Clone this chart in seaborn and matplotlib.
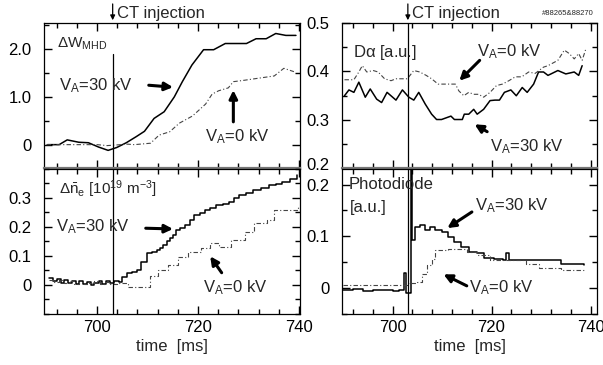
import matplotlib
matplotlib.use("Agg")
import matplotlib.pyplot as plt
import matplotlib.transforms as mtransforms
from matplotlib.ticker import MultipleLocator, FixedLocator
import numpy as np
import seaborn as sns

sns.set_style("ticks")
plt.rcParams['font.family'] = ['Liberation Sans', 'DejaVu Sans']
plt.rcParams['mathtext.fontset'] = 'custom'
plt.rcParams['mathtext.rm'] = 'Liberation Sans'
plt.rcParams['mathtext.it'] = 'Liberation Sans'
plt.rcParams['mathtext.default'] = 'regular'

CT_TIME = 703.1

# stored energy increase dW_MHD
w30_t = [690.2, 692.5, 694.1, 696.4, 698.3, 700.3, 702.2, 703.9, 705.8, 707.8, 709.4,
         711.3, 713.3, 715.3, 716.9, 718.8, 721.1, 723.1, 725.4, 729.6, 731.5, 733.5,
         735.4, 737.4, 739.4]
w30_v = [0.0, 0.0, 0.1, 0.05, 0.04, -0.05, -0.12, -0.06, 0.04, 0.17, 0.28,
         0.55, 0.69, 1.0, 1.32, 1.67, 1.99, 1.99, 2.12, 2.12, 2.22, 2.22,
         2.33, 2.29, 2.29]
w0_t = [690.0, 700.0, 702.0, 706.1, 707.4, 710.6, 712.3, 714.4, 716.3, 718.9, 721.5,
        722.8, 724.1, 726.0, 727.0, 729.2, 731.8, 735.1, 737.0, 739.0]
w0_v = [0.0, 0.0, -0.02, 0.01, 0.0, 0.03, 0.2, 0.27, 0.45, 0.6, 0.85,
        1.06, 1.13, 1.19, 1.32, 1.35, 1.39, 1.44, 1.6, 1.53]

# D-alpha
da30_t = [690.3, 691.2, 692.2, 693.2, 694.5, 695.5, 696.8, 697.8, 698.9, 700.7, 702.0,
          703.3, 704.3, 705.3, 706.6, 707.9, 708.9, 709.9, 711.8, 712.5, 714.1, 714.5,
          715.4, 716.4, 717.1, 718.4, 719.7, 720.7, 721.6, 722.6, 723.9, 725.0, 726.2,
          727.2, 728.5, 729.5, 730.5, 731.4, 733.4, 735.0, 736.7, 737.6, 738.3]
da30_v = [0.350, 0.362, 0.357, 0.378, 0.347, 0.364, 0.343, 0.336, 0.357, 0.341, 0.362,
          0.347, 0.341, 0.357, 0.333, 0.312, 0.301, 0.301, 0.308, 0.301, 0.301, 0.312,
          0.312, 0.322, 0.312, 0.322, 0.340, 0.341, 0.341, 0.357, 0.362, 0.350, 0.367,
          0.357, 0.374, 0.399, 0.399, 0.392, 0.402, 0.395, 0.399, 0.392, 0.412]
da0_t = [690.3, 692.2, 693.2, 693.9, 694.8, 696.1, 697.1, 698.4, 699.7, 700.7, 703.0,
         704.3, 705.5, 706.8, 707.9, 709.2, 710.8, 712.7, 713.4, 714.4, 715.4, 716.4,
         717.4, 718.4, 719.7, 721.0, 722.2, 723.5, 724.8, 726.1, 727.5, 728.8, 730.5,
         731.4, 733.4, 734.7, 735.7, 736.7, 737.6, 738.3, 739.0]
da0_v = [0.383, 0.383, 0.399, 0.412, 0.399, 0.402, 0.399, 0.385, 0.381, 0.385, 0.385,
         0.402, 0.399, 0.392, 0.385, 0.374, 0.374, 0.374, 0.360, 0.350, 0.357, 0.353,
         0.353, 0.347, 0.357, 0.371, 0.374, 0.381, 0.389, 0.389, 0.399, 0.396, 0.409,
         0.412, 0.423, 0.444, 0.437, 0.426, 0.437, 0.423, 0.445]

# line-averaged density increase
ne30_t = [690.5, 691.3, 692.0, 692.8, 693.5, 694.3, 695.0, 695.8, 696.5, 697.3, 698.0,
          698.8, 699.5, 700.3, 701.0, 701.8, 702.5, 703.3, 704.3, 705.0, 705.9, 706.9,
          707.9, 708.8, 709.8, 710.8, 711.8, 712.5, 713.1, 713.8, 714.4, 715.0, 715.7,
          716.5, 717.4, 718.4, 719.3, 720.3, 721.3, 722.4, 723.6, 724.9, 726.2, 727.2,
          728.2, 729.5, 730.8, 732.4, 734.1, 735.4, 736.7, 738.2, 739.6]
ne30_v = [0.023, 0.012, 0.020, 0.008, 0.018, 0.006, 0.015, 0.004, 0.012, 0.002, 0.010,
          0.000, 0.008, 0.014, 0.003, 0.012, 0.005, 0.015, 0.011, 0.028, 0.040, 0.045,
          0.051, 0.080, 0.108, 0.112, 0.120, 0.128, 0.137, 0.150, 0.160, 0.170, 0.188,
          0.196, 0.205, 0.222, 0.240, 0.248, 0.257, 0.265, 0.274, 0.278, 0.285, 0.300,
          0.308, 0.315, 0.325, 0.334, 0.342, 0.348, 0.354, 0.365, 0.377]
ne0_t = [690.5, 691.5, 692.5, 693.5, 694.5, 695.5, 696.5, 697.5, 698.5, 699.5, 700.5,
         701.5, 702.5, 704.0, 706.1, 708.8, 710.4, 712.1, 714.1, 716.0, 718.0, 720.6,
         722.3, 724.2, 726.5, 729.4, 731.1, 733.7, 735.0, 737.6, 739.9]
ne0_v = [0.017, 0.010, 0.016, 0.006, 0.012, 0.004, 0.010, 0.002, 0.008, 0.012, 0.004,
         0.010, 0.002, 0.006, -0.006, -0.006, 0.031, 0.051, 0.068, 0.097, 0.114, 0.126,
         0.143, 0.131, 0.154, 0.183, 0.211, 0.223, 0.257, 0.257, 0.270]

# photodiode
pd30_t = [690.0, 692.0, 694.0, 696.0, 698.0, 700.0, 701.4, 702.4, 702.7, 703.6, 703.8,
          704.0, 704.6, 705.6, 706.6, 707.6, 708.6, 709.9, 711.2, 712.5, 713.8, 715.4,
          717.1, 718.4, 720.4, 722.3, 722.9, 723.6, 726.2, 728.8, 731.4, 734.0, 738.6]
pd30_v = [-0.004, -0.002, -0.005, -0.003, -0.004, -0.006, -0.004, 0.030, -0.009, -0.009, 0.240,
          0.092, 0.118, 0.121, 0.112, 0.118, 0.112, 0.108, 0.099, 0.089, 0.079, 0.070,
          0.067, 0.059, 0.057, 0.054, 0.067, 0.055, 0.055, 0.055, 0.054, 0.047, 0.044]
pd0_t = [690.0, 702.0, 703.0, 705.0, 706.0, 707.0, 708.0, 708.6, 709.9, 711.2, 713.1,
         715.1, 717.1, 719.7, 723.6, 726.9, 729.5, 734.0, 738.6]
pd0_v = [0.006, 0.006, 0.009, 0.012, 0.028, 0.044, 0.057, 0.073, 0.073, 0.076, 0.076,
         0.070, 0.063, 0.055, 0.054, 0.047, 0.038, 0.035, 0.035]

W, H = 603, 365
fig = plt.figure(figsize=(W / 100, H / 100), dpi=100)


def frac(x0, y0, x1, y1):
    return [x0 / W, 1 - y1 / H, (x1 - x0) / W, (y1 - y0) / H]


ax_w = fig.add_axes(frac(44, 23, 300, 168.5))
ax_d = fig.add_axes(frac(342, 23, 597, 168.5))
ax_n = fig.add_axes(frac(44, 168.5, 300, 314))
ax_p = fig.add_axes(frac(342, 168.5, 597, 314))

solid = dict(color='black', lw=1.1, estimator=None, sort=False)
dashed = dict(color='#444444', lw=0.8, estimator=None, sort=False,
              linestyle=(0, (4, 2, 1, 2)))

sns.lineplot(x=w30_t, y=w30_v, ax=ax_w, **solid)
sns.lineplot(x=w0_t, y=w0_v, ax=ax_w, **dashed)
sns.lineplot(x=da30_t, y=da30_v, ax=ax_d, **solid)
sns.lineplot(x=da0_t, y=da0_v, ax=ax_d, **dashed)
sns.lineplot(x=ne30_t, y=ne30_v, ax=ax_n, drawstyle='steps-post', **solid)
sns.lineplot(x=ne0_t, y=ne0_v, ax=ax_n, drawstyle='steps-post', **dashed)
sns.lineplot(x=pd30_t, y=pd30_v, ax=ax_p, drawstyle='steps-post', **solid)
sns.lineplot(x=pd0_t, y=pd0_v, ax=ax_p, drawstyle='steps-post', **dashed)

ax_w.set_ylim(-0.5, 2.55)
ax_d.set_ylim(0.2, 0.5)
ax_n.set_ylim(-0.1, 0.4)
ax_p.set_ylim(-0.05, 0.231)

ax_w.yaxis.set_major_locator(FixedLocator([0, 1.0, 2.0]))
ax_w.set_yticklabels(['0', '1.0', '2.0'])
ax_w.yaxis.set_minor_locator(MultipleLocator(0.5))
ax_d.yaxis.set_major_locator(FixedLocator([0.2, 0.3, 0.4, 0.5]))
ax_d.set_yticklabels(['0.2', '0.3', '0.4', '0.5'])
ax_d.yaxis.set_minor_locator(MultipleLocator(0.05))
ax_n.yaxis.set_major_locator(FixedLocator([0, 0.1, 0.2, 0.3]))
ax_n.set_yticklabels(['0', '0.1', '0.2', '0.3'])
ax_n.yaxis.set_minor_locator(MultipleLocator(0.05))
ax_p.yaxis.set_major_locator(FixedLocator([0, 0.1, 0.2]))
ax_p.set_yticklabels(['0', '0.1', '0.2'])
ax_p.yaxis.set_minor_locator(MultipleLocator(0.05))

for ax in (ax_w, ax_n):
    ax.set_xlim(689.5, 740.2)
for ax in (ax_d, ax_p):
    ax.set_xlim(689.8, 741.3)

for ax in (ax_w, ax_d, ax_n, ax_p):
    ax.xaxis.set_major_locator(FixedLocator([700, 720, 740]))
    ax.xaxis.set_minor_locator(MultipleLocator(4))
    ax.tick_params(which='both', direction='in', top=True, right=True,
                   labelsize=12, colors='black', width=1.0)
    ax.tick_params(which='major', length=6, pad=4)
    ax.tick_params(which='minor', length=3.5)
    ax.tick_params(axis='y', pad=9)
    for s in ax.spines.values():
        s.set_linewidth(0.9)
        s.set_color('black')
    ax.set_xlabel('')
    ax.set_ylabel('')

for ax in (ax_w, ax_d):
    ax.tick_params(labelbottom=False)
    ax.spines['bottom'].set_color('#777777')
    ax.spines['bottom'].set_linewidth(1.6)
for ax in (ax_n, ax_p):
    ax.set_xticklabels(['700', '720', '740'])
    ax.set_xlabel('time  [ms]', fontsize=12, labelpad=3)

# lift the lowest label of the D-alpha panel a little, as in the original
fig.canvas.draw()
lift = mtransforms.ScaledTranslation(0, 3 / 72, fig.dpi_scale_trans)
ax_d.get_yticklabels()[0].set_transform(ax_d.get_yticklabels()[0].get_transform() + lift)

# CT injection markers
ax_w.axvline(CT_TIME, ymax=0.79, color='black', lw=0.9)
for ax in (ax_d, ax_n, ax_p):
    ax.axvline(CT_TIME, color='black', lw=0.9)
for ax in (ax_w, ax_d):
    ax.annotate('', xy=(CT_TIME, 1.0), xycoords=('data', 'axes fraction'),
                xytext=(CT_TIME, 1.15), textcoords=('data', 'axes fraction'),
                arrowprops=dict(arrowstyle='-|>', color='black', lw=0.9,
                                mutation_scale=7))
    ax.text(CT_TIME + 0.8, 1.015, 'CT injection', transform=ax.get_xaxis_transform(),
            fontsize=12, ha='left', va='bottom')

ax_d.text(735.5, 1.04, '#88265&88270', transform=ax_d.get_xaxis_transform(),
          fontsize=5.5, ha='center', va='bottom')

# panel labels
ax_w.text(692, 2.12, r'$\Delta$W$_{\mathrm{MHD}}$', fontsize=11, va='center')
ax_d.text(692, 0.44, r'D$\alpha$ [a.u.]', fontsize=12, va='center')
ax_n.text(692.5, 0.33, r'$\Delta\bar{n}_{e}$ [10$^{19}$ m$^{-3}$]', fontsize=11, va='center')
ax_p.text(691.2, 0.2, 'Photodiode', fontsize=12, va='center')
ax_p.text(691.4, 0.155, '[a.u.]', fontsize=12, va='center')

arrow = dict(arrowstyle='-|>', color='black', lw=2.2, mutation_scale=12)


def label(ax, text, tx, ty, ax0, ay0, ax1, ay1):
    ax.text(tx, ty, text, fontsize=12, va='center')
    ax.annotate('', xy=(ax1, ay1), xytext=(ax0, ay0), arrowprops=arrow)


label(ax_w, 'V$_{A}$=30 kV', 692.4, 1.23, 709.7, 1.25, 715.6, 1.2)
label(ax_w, 'V$_{A}$=0 kV', 721.4, 0.17, 727.0, 0.42, 727.0, 1.2)
label(ax_d, 'V$_{A}$=0 kV', 717.0, 0.44, 718.0, 0.427, 713.1, 0.377)
label(ax_d, 'V$_{A}$=30 kV', 719.6, 0.246, 719.6, 0.273, 716.1, 0.294)
label(ax_n, 'V$_{A}$=30 kV', 691.8, 0.2, 709.1, 0.195, 715.6, 0.192)
label(ax_n, 'V$_{A}$=0 kV', 720.9, -0.01, 725.0, 0.034, 722.1, 0.106)
label(ax_p, 'V$_{A}$=30 kV', 716.7, 0.16, 716.5, 0.15, 710.6, 0.113)
label(ax_p, 'V$_{A}$=0 kV', 715.5, 0.0, 715.5, 0.002, 709.8, 0.029)

fig.savefig('out.png', dpi=100)
